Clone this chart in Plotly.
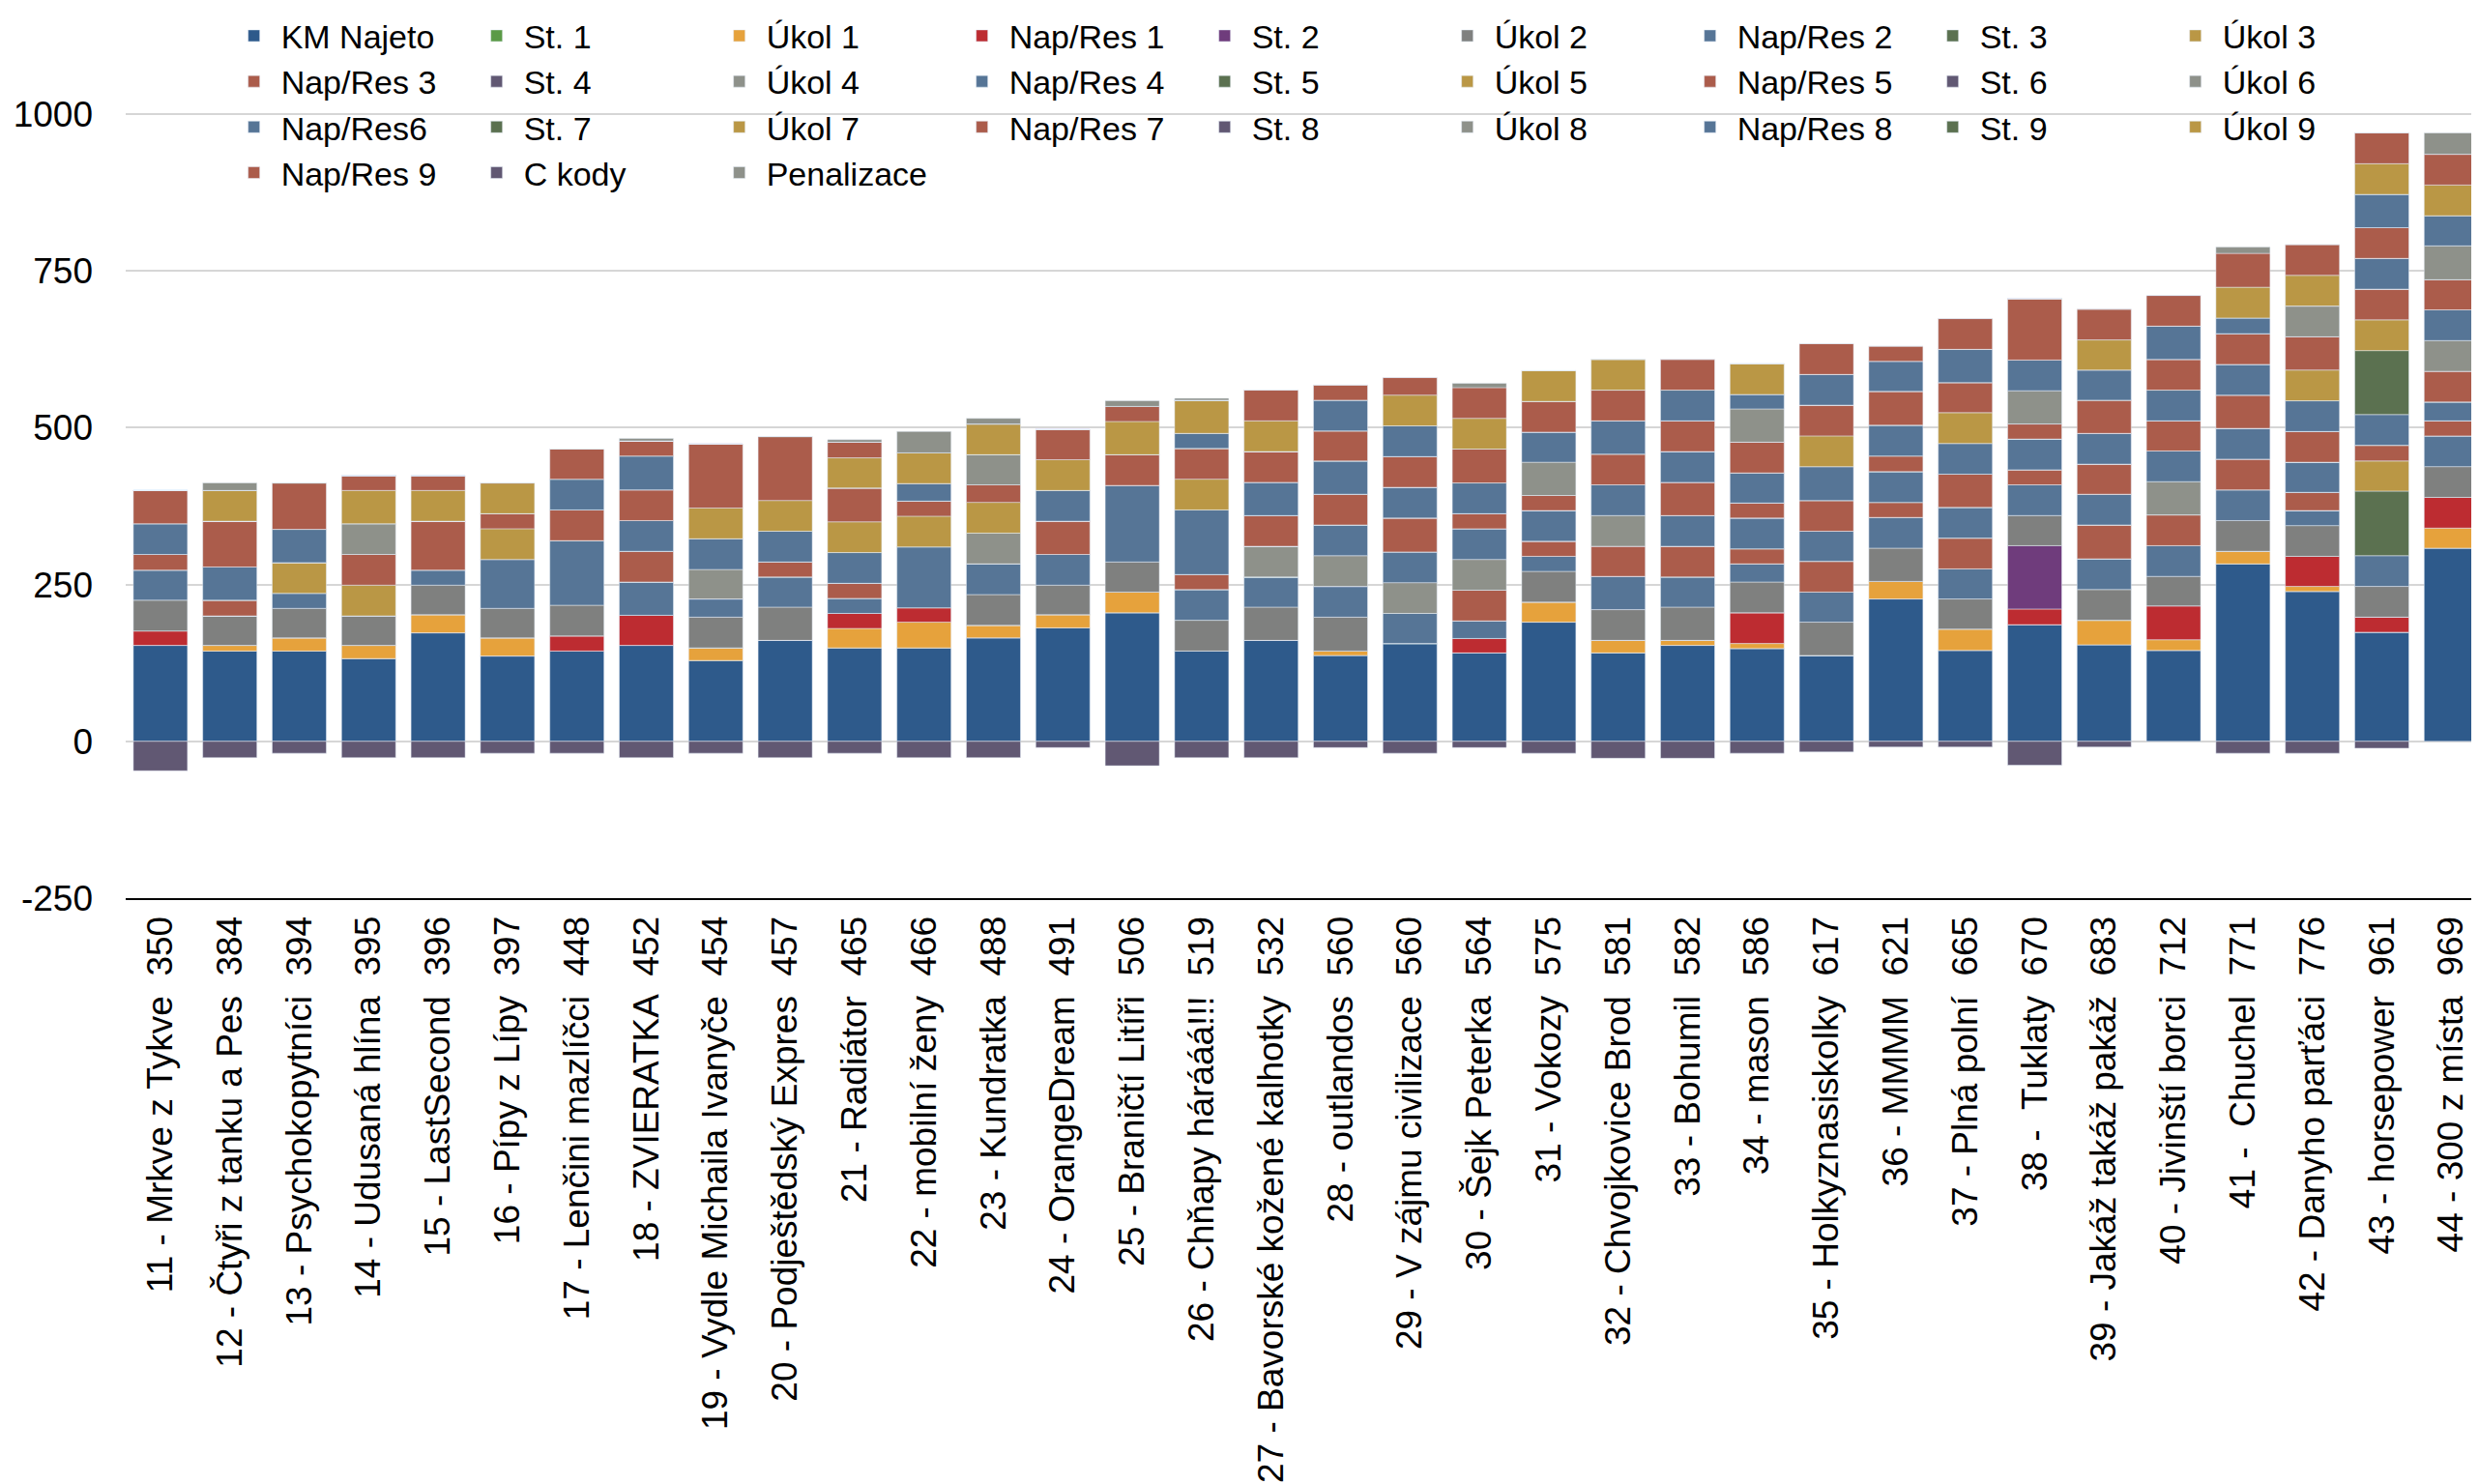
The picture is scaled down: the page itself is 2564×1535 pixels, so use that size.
"""
Body za etapy - skládaný sloupcový graf bodů týmů (km + stanoviště + úkoly + nap/res).
"""

import plotly.graph_objects as go

TEAMS = [
    "11 - Mrkve z Tykve", "12 - Čtyři z tanku a Pes", "13 - Psychokopytníci",
    "14 - Udusaná hlína", "15 - LastSecond", "16 - Pípy z Lípy",
    "17 - Lenčini mazlíčci", "18 - ZVIERATKA", "19 - Vydle Michaila Ivanyče",
    "20 - Podještědský Expres", "21 - Radiátor", "22 - mobilní ženy",
    "23 - Kundratka", "24 - OrangeDream", "25 - Braničtí Litíři",
    "26 - Chňapy hárááá!!!", "27 - Bavorské kožené kalhotky", "28 - outlandos",
    "29 - V zájmu civilizace", "30 - Šejk Peterka", "31 - Vokozy",
    "32 - Chvojkovice Brod", "33 - Bohumil", "34 - mason",
    "35 - Holkyznasiskolky", "36 - MMMM", "37 - Plná polní",
    "38 - \u00a0Tuklaty", "39 - Jakáž takáž pakáž", "40 - Jivinští borci",
    "41 - \u00a0Chuchel", "42 - Danyho parťáci", "43 - horsepower",
    "44 - 300 z místa",
]
SCORES = [350, 384, 394, 395, 396, 397, 448, 452, 454, 457,
          465, 466, 488, 491, 506, 519, 532, 560, 560, 564,
          575, 581, 582, 586, 617, 621, 665, 670, 683, 712,
          771, 776, 961, 969]

KM_NAJETO = [153, 144, 144, 132, 173, 136, 144, 153, 129, 161,
             149, 149, 165, 181, 205, 144, 161, 137, 156, 141,
             190, 141, 153, 148, 137, 227, 145, 186, 154, 145,
             283, 239, 174, 308]
ST_1 = [0, 0, 0, 0, 0, 0, 0, 0, 0, 0,
        0, 0, 0, 0, 0, 0, 0, 0, 0, 0,
        0, 0, 0, 0, 0, 0, 0, 0, 0, 0,
        0, 0, 0, 0]
UKOL_1 = [0, 9, 21, 21, 29, 29, 0, 0, 20, 0,
          31, 41, 20, 21, 33, 0, 0, 7, 0, 0,
          32, 20, 8, 8, 0, 28, 34, 0, 39, 17,
          20, 8, 0, 32]
NAP_RES_1 = [23, 0, 0, 0, 0, 0, 24, 48, 0, 0,
             24, 23, 0, 0, 0, 0, 0, 0, 0, 23,
             0, 0, 0, 49, 0, 0, 0, 25, 0, 54,
             0, 48, 24, 49]
ST_2 = [0, 0, 0, 0, 0, 0, 0, 0, 0, 0,
        0, 0, 0, 0, 0, 0, 0, 0, 0, 0,
        0, 0, 0, 0, 0, 0, 0, 101, 0, 0,
        0, 0, 0, 0]
UKOL_2 = [49, 47, 47, 47, 47, 47, 49, 0, 49, 53,
          0, 0, 49, 47, 48, 49, 53, 54, 0, 0,
          49, 49, 53, 49, 53, 53, 48, 48, 49, 47,
          49, 49, 49, 49]
NAP_RES_2 = [48, 0, 24, 0, 24, 78, 103, 53, 29, 48,
             24, 97, 49, 49, 122, 49, 48, 49, 48, 28,
             24, 53, 48, 29, 48, 49, 48, 49, 49, 49,
             49, 24, 49, 49]
ST_3 = [0, 0, 0, 0, 0, 0, 0, 0, 0, 0,
        0, 0, 0, 0, 0, 0, 0, 0, 0, 0,
        0, 0, 0, 0, 0, 0, 0, 0, 0, 0,
        0, 0, 103, 0]
UKOL_3 = [0, 0, 49, 49, 0, 49, 0, 0, 0, 0,
          0, 49, 0, 0, 0, 0, 0, 0, 0, 0,
          0, 0, 0, 0, 0, 0, 0, 0, 0, 0,
          0, 0, 48, 0]
NAP_RES_3 = [25, 25, 0, 49, 78, 24, 49, 49, 0, 24,
             24, 24, 0, 53, 49, 24, 0, 0, 0, 49,
             24, 48, 49, 24, 49, 24, 49, 24, 54, 49,
             49, 29, 25, 24]
ST_4 = [0, 0, 0, 0, 0, 0, 0, 0, 0, 0,
        0, 0, 0, 0, 0, 0, 0, 0, 0, 0,
        0, 0, 0, 0, 0, 0, 0, 0, 0, 0,
        0, 0, 0, 0]
UKOL_4 = [0, 0, 0, 49, 0, 0, 0, 0, 47, 0,
          0, 0, 49, 0, 0, 0, 49, 49, 49, 49,
          0, 49, 0, 0, 0, 0, 0, 0, 0, 53,
          0, 0, 0, 0]
NAP_RES_4 = [49, 53, 53, 0, 0, 0, 49, 49, 49, 49,
             49, 28, 0, 49, 0, 103, 0, 49, 49, 49,
             49, 49, 49, 49, 48, 49, 49, 49, 49, 49,
             49, 48, 49, 30]
ST_5 = [0, 0, 0, 0, 0, 0, 0, 0, 0, 0,
        0, 0, 0, 0, 0, 0, 0, 0, 0, 0,
        0, 0, 0, 0, 0, 0, 0, 0, 0, 0,
        0, 0, 102, 0]
UKOL_5 = [0, 0, 0, 53, 49, 49, 0, 0, 49, 49,
          49, 49, 49, 49, 53, 49, 0, 0, 0, 0,
          0, 0, 0, 0, 0, 0, 0, 0, 0, 0,
          0, 0, 49, 0]
NAP_RES_5 = [53, 73, 74, 24, 24, 0, 48, 49, 102, 102,
             54, 0, 28, 48, 24, 49, 49, 49, 54, 24,
             24, 49, 53, 24, 49, 25, 53, 24, 48, 48,
             53, 49, 49, 49]
ST_6 = [0, 0, 0, 0, 0, 0, 0, 0, 0, 0,
        0, 0, 0, 0, 0, 0, 0, 0, 0, 0,
        0, 0, 0, 0, 0, 0, 0, 0, 0, 0,
        0, 0, 0, 0]
UKOL_6 = [0, 0, 0, 0, 0, 0, 0, 0, 0, 0,
          0, 0, 48, 0, 0, 0, 0, 0, 0, 0,
          53, 0, 0, 0, 0, 0, 0, 53, 0, 0,
          0, 0, 0, 49]
NAP_RES_6 = [0, 0, 0, 0, 0, 0, 0, 54, 0, 0,
             0, 0, 0, 0, 0, 24, 53, 53, 49, 49,
             48, 53, 49, 48, 54, 49, 49, 49, 49, 49,
             49, 49, 49, 49]
ST_7 = [0, 0, 0, 0, 0, 0, 0, 0, 0, 0,
        0, 0, 0, 0, 0, 0, 0, 0, 0, 0,
        0, 0, 0, 0, 0, 0, 0, 0, 0, 0,
        0, 0, 0, 0]
UKOL_7 = [0, 49, 0, 0, 0, 0, 0, 0, 0, 0,
          48, 0, 49, 0, 0, 53, 0, 0, 0, 0,
          0, 0, 0, 0, 49, 0, 49, 0, 0, 0,
          0, 49, 0, 0]
NAP_RES_7 = [0, 0, 0, 0, 0, 0, 0, 24, 0, 0,
             25, 0, 0, 0, 0, 0, 49, 48, 49, 54,
             49, 49, 49, 49, 49, 54, 48, 98, 53, 49,
             49, 53, 49, 48]
ST_8 = [0, 0, 0, 0, 0, 0, 0, 0, 0, 0,
        0, 0, 0, 0, 0, 0, 0, 0, 0, 0,
        0, 0, 0, 0, 0, 0, 0, 0, 0, 0,
        0, 0, 0, 0]
UKOL_8 = [0, 0, 0, 0, 0, 0, 0, 0, 0, 0,
          0, 0, 0, 0, 0, 0, 0, 0, 0, 0,
          0, 0, 0, 53, 0, 0, 0, 0, 0, 0,
          0, 49, 0, 54]
NAP_RES_8 = [0, 0, 0, 0, 0, 0, 0, 0, 0, 0,
             0, 0, 0, 0, 0, 0, 0, 49, 49, 0,
             0, 0, 49, 23, 49, 48, 53, 0, 48, 53,
             25, 0, 53, 48]
ST_9 = [0, 0, 0, 0, 0, 0, 0, 0, 0, 0,
        0, 0, 0, 0, 0, 0, 0, 0, 0, 0,
        0, 0, 0, 0, 0, 0, 0, 0, 0, 0,
        0, 0, 0, 0]
UKOL_9 = [0, 0, 0, 0, 0, 0, 0, 0, 0, 0,
          0, 0, 0, 0, 0, 0, 49, 0, 49, 49,
          49, 49, 0, 49, 0, 0, 0, 0, 48, 0,
          49, 49, 49, 49]
NAP_RES_9 = [0, 0, 0, 0, 0, 0, 0, 0, 0, 0,
             0, 0, 0, 0, 0, 0, 49, 24, 28, 49,
             0, 0, 49, 0, 49, 24, 49, 0, 49, 49,
             54, 49, 49, 49]
C_KODY = [-47, -26, -19, -26, -26, -19, -19, -26, -19, -26,
          -19, -26, -26, -10, -39, -26, -26, -10, -19, -10,
          -19, -27, -27, -19, -17, -9, -9, -38, -9, 0,
          -19, -19, -11, 0]
PENALIZACE = [0, 12, 0, 0, 0, 0, 0, 4, 0, 0,
              4, 34, 9, 0, 9, 3, 0, 0, 0, 7,
              0, 0, 0, 0, 0, 0, 0, 0, 0, 0,
              10, 0, 0, 34]

Y_TICKS = [-250, 0, 250, 500, 750, 1000]
Y_TICK_LABELS = ["-250", "0", "250", "500", "750", "1000"]

# barvy (paleta jako v Numbers)
NAVY = "#2e5a8b"
GREEN = "#5b9a46"
ORANGE = "#e6a23c"
RED = "#bd2c31"
PURPLE = "#6f3c7c"
GRAY = "#7f807f"
BLUE = "#567596"
DKGREEN = "#5b7150"
GOLD = "#ba9745"
BRICK = "#ab5c4b"
PGRAY = "#615873"
LGRAY = "#8e918a"

SERIES = [
    ("KM Najeto", KM_NAJETO, NAVY),
    ("St. 1", ST_1, GREEN),
    ("Úkol 1", UKOL_1, ORANGE),
    ("Nap/Res 1", NAP_RES_1, RED),
    ("St. 2", ST_2, PURPLE),
    ("Úkol 2", UKOL_2, GRAY),
    ("Nap/Res 2", NAP_RES_2, BLUE),
    ("St. 3", ST_3, DKGREEN),
    ("Úkol 3", UKOL_3, GOLD),
    ("Nap/Res 3", NAP_RES_3, BRICK),
    ("St. 4", ST_4, PGRAY),
    ("Úkol 4", UKOL_4, LGRAY),
    ("Nap/Res 4", NAP_RES_4, BLUE),
    ("St. 5", ST_5, DKGREEN),
    ("Úkol 5", UKOL_5, GOLD),
    ("Nap/Res 5", NAP_RES_5, BRICK),
    ("St. 6", ST_6, PGRAY),
    ("Úkol 6", UKOL_6, LGRAY),
    ("Nap/Res6", NAP_RES_6, BLUE),
    ("St. 7", ST_7, DKGREEN),
    ("Úkol 7", UKOL_7, GOLD),
    ("Nap/Res 7", NAP_RES_7, BRICK),
    ("St. 8", ST_8, PGRAY),
    ("Úkol 8", UKOL_8, LGRAY),
    ("Nap/Res 8", NAP_RES_8, BLUE),
    ("St. 9", ST_9, DKGREEN),
    ("Úkol 9", UKOL_9, GOLD),
    ("Nap/Res 9", NAP_RES_9, BRICK),
    ("C kody", C_KODY, PGRAY),
    ("Penalizace", PENALIZACE, LGRAY),
]

FONT = "Liberation Sans, Arial, Helvetica, sans-serif"


def fig_stage_points() -> go.Figure:
    """Skládané body po etapách, záporné C kódy pod nulou."""
    labels = [f"{t} \u00a0{s}" for t, s in zip(TEAMS, SCORES)]
    fig = go.Figure()
    for name, values, color in SERIES:
        fig.add_trace(go.Bar(x=labels, y=values, name=name, marker_color=color))

    # stránka má 8px okraj body -> graf o 8px menší
    fig.update_layout(
        width=2556,
        height=1527,
        autosize=False,
        barmode="relative",
        bargap=0.22,
        margin=dict(l=122, r=0, t=0, b=606),
        plot_bgcolor="white",
        paper_bgcolor="white",
        font=dict(family=FONT, size=37, color="black"),
        legend=dict(
            orientation="h",
            x=0.043,
            y=1.004,
            xanchor="left",
            yanchor="top",
            bgcolor="rgba(0,0,0,0)",
            font=dict(size=34),
            traceorder="normal",
            itemwidth=46,
            entrywidth=190,
        ),
    )
    fig.update_xaxes(
        tickangle=-90,
        tickfont=dict(size=37),
        range=[-0.5, 33.4],
        showgrid=False,
        showline=True,
        linecolor="black",
        linewidth=2,
        ticks="",
        ticklabelstandoff=2,
        automargin=False,
    )
    fig.update_yaxes(
        range=[-250, 1163.5],
        tickvals=Y_TICKS,
        ticktext=Y_TICK_LABELS,
        gridcolor="#d6d6d6",
        gridwidth=1.5,
        zeroline=False,
        ticks="",
        ticklabelstandoff=33,
        automargin=False,
    )
    return fig


fig = fig_stage_points()
fig.write_html("out.html")
